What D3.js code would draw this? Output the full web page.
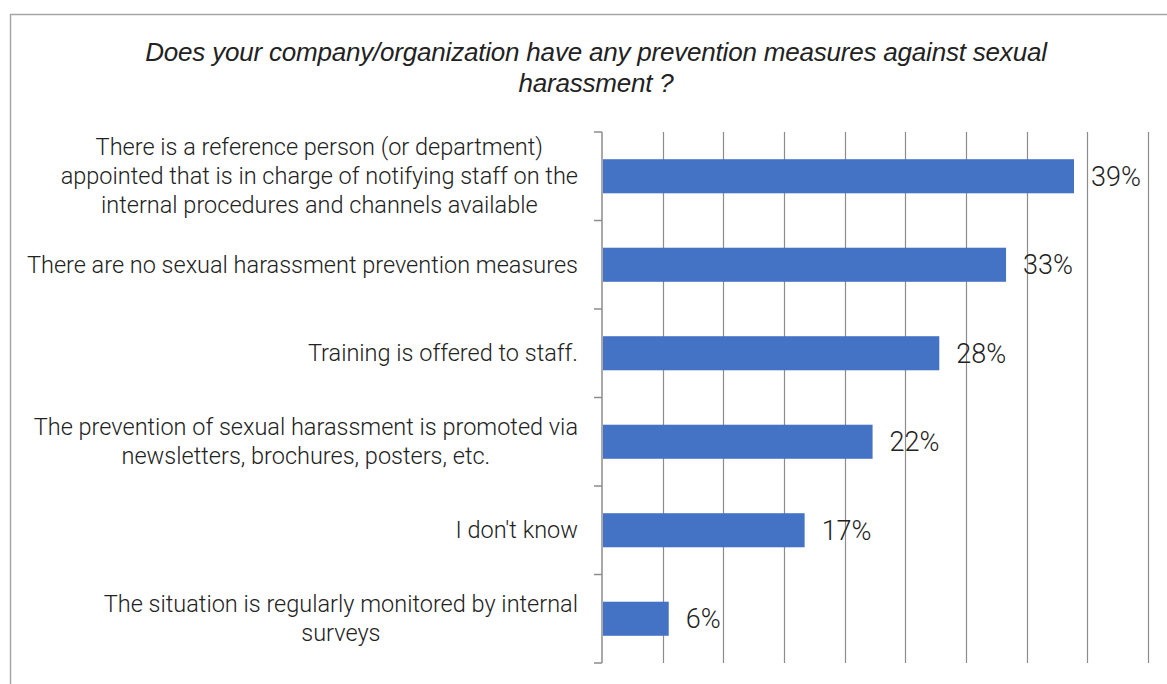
<!DOCTYPE html>
<html>
<head>
<meta charset="utf-8">
<script src="https://cdn.jsdelivr.net/npm/d3@7"></script>
<style>
  body { margin: 0; background: #fff; }
  text { fill: #222; }
</style>
</head>
<body>
<script>
//chart data
let categories = [
    "There is a reference person (or department)\nappointed that is in charge of notifying staff on the\ninternal procedures and channels available",
    "There are no sexual harassment prevention measures",
    "Training is offered to staff.",
    "The prevention of sexual harassment is promoted via\nnewsletters, brochures, posters, etc.",
    "I don't know",
    "The situation is regularly monitored by internal\nsurveys"
];
let values = [38.9, 33.3, 27.8, 22.3, 16.7, 5.5];
let valueLabels = ["39%", "33%", "28%", "22%", "17%", "6%"];
let xTicks = [0, 5, 10, 15, 20, 25, 30, 35, 40, 45];
let titleLines = [
    "Does your company/organization have any prevention measures against sexual",
    "harassment ?"
];

//frame dimensions
let width = 1167,
    height = 684;

let svg = d3.select("body")
    .append("svg")
    .attr("width", width)
    .attr("height", height);

//chart border (cropped at right and bottom like the picture)
svg.append("rect")
    .attr("x", 10.5)
    .attr("y", 14.5)
    .attr("width", 1200)
    .attr("height", 700)
    .attr("fill", "none")
    .attr("stroke", "#a6a6a6")
    .attr("stroke-width", 1.5);

//title
svg.append("text")
    .attr("x", 596)
    .attr("y", 61)
    .attr("text-anchor", "middle")
    .style("font-family", "Liberation Sans, Arial, sans-serif")
    .style("font-style", "italic")
    .style("font-size", "26px")
    .style("letter-spacing", "-0.2px")
    .selectAll("tspan")
    .data(titleLines)
    .enter()
    .append("tspan")
    .attr("x", 596)
    .attr("dy", function (d, i) { return i === 0 ? 0 : 31; })
    .text(function (d) { return d; });

//scales
let x = d3.scaleLinear()
    .domain([0, 45])
    .range([602, 1148]);

let y = d3.scaleBand()
    .domain(categories)
    .range([132, 663])
    .paddingInner(0.615)
    .paddingOuter(0.3075);

let step = y.step();
let gap = (step - y.bandwidth()) / 2;

//vertical gridlines
svg.selectAll(".grid")
    .data(xTicks.slice(1))
    .enter()
    .append("line")
    .attr("class", "grid")
    .attr("x1", function (d) { return Math.round(x(d)) + 0.5; })
    .attr("x2", function (d) { return Math.round(x(d)) + 0.5; })
    .attr("y1", 132)
    .attr("y2", 663)
    .attr("stroke", "#8c8c8c")
    .attr("stroke-width", 1.2);

//category axis line and ticks
svg.append("line")
    .attr("x1", x(0))
    .attr("x2", x(0))
    .attr("y1", 132)
    .attr("y2", 663)
    .attr("stroke", "#8c8c8c")
    .attr("stroke-width", 1.5);

let bounds = categories.map(function (c) { return y(c) - gap; });
bounds.push(y(categories[categories.length - 1]) + y.bandwidth() + gap);

svg.selectAll(".tick")
    .data(bounds)
    .enter()
    .append("line")
    .attr("class", "tick")
    .attr("x1", x(0) - 8)
    .attr("x2", x(0))
    .attr("y1", function (d) { return d; })
    .attr("y2", function (d) { return d; })
    .attr("stroke", "#8c8c8c")
    .attr("stroke-width", 1.5);

//bars
svg.selectAll(".bar")
    .data(values)
    .enter()
    .append("rect")
    .attr("class", "bar")
    .attr("x", x(0) + 1)
    .attr("y", function (d, i) { return y(categories[i]); })
    .attr("width", function (d) { return x(d) - x(0) - 1; })
    .attr("height", y.bandwidth())
    .attr("fill", "#4472c4");

//value labels
svg.selectAll(".val")
    .data(values)
    .enter()
    .append("text")
    .attr("class", "val")
    .attr("x", function (d) { return x(d) + 17; })
    .attr("y", function (d, i) { return y(categories[i]) + y.bandwidth() / 2; })
    .attr("dy", "0.35em")
    .style("font-family", "Roboto, sans-serif")
    .style("font-weight", 300)
    .style("font-size", "27px")
    .text(function (d, i) { return valueLabels[i]; });

//category labels: lines centred on each other, block right-aligned at the axis
let labelRight = 578;
let labels = svg.selectAll(".cat")
    .data(categories)
    .enter()
    .append("text")
    .attr("class", "cat")
    .attr("text-anchor", "middle")
    .style("font-family", "Roboto, sans-serif")
    .style("font-weight", 300)
    .style("font-size", "23.5px")
    .attr("y", function (d) {
        let n = d.split("\n").length;
        return y(d) + y.bandwidth() / 2 - (n - 1) * 29 / 2;
    });

labels.each(function (d) {
    let g = d3.select(this);
    let spans = g.selectAll("tspan")
        .data(d.split("\n"))
        .enter()
        .append("tspan")
        .attr("dy", function (t, i) { return i === 0 ? "0.35em" : 29; })
        .text(function (t) { return t; });
    let maxW = 0;
    spans.each(function () { maxW = Math.max(maxW, this.getComputedTextLength()); });
    spans.attr("x", labelRight - maxW / 2);
});
</script>
</body>
</html>
